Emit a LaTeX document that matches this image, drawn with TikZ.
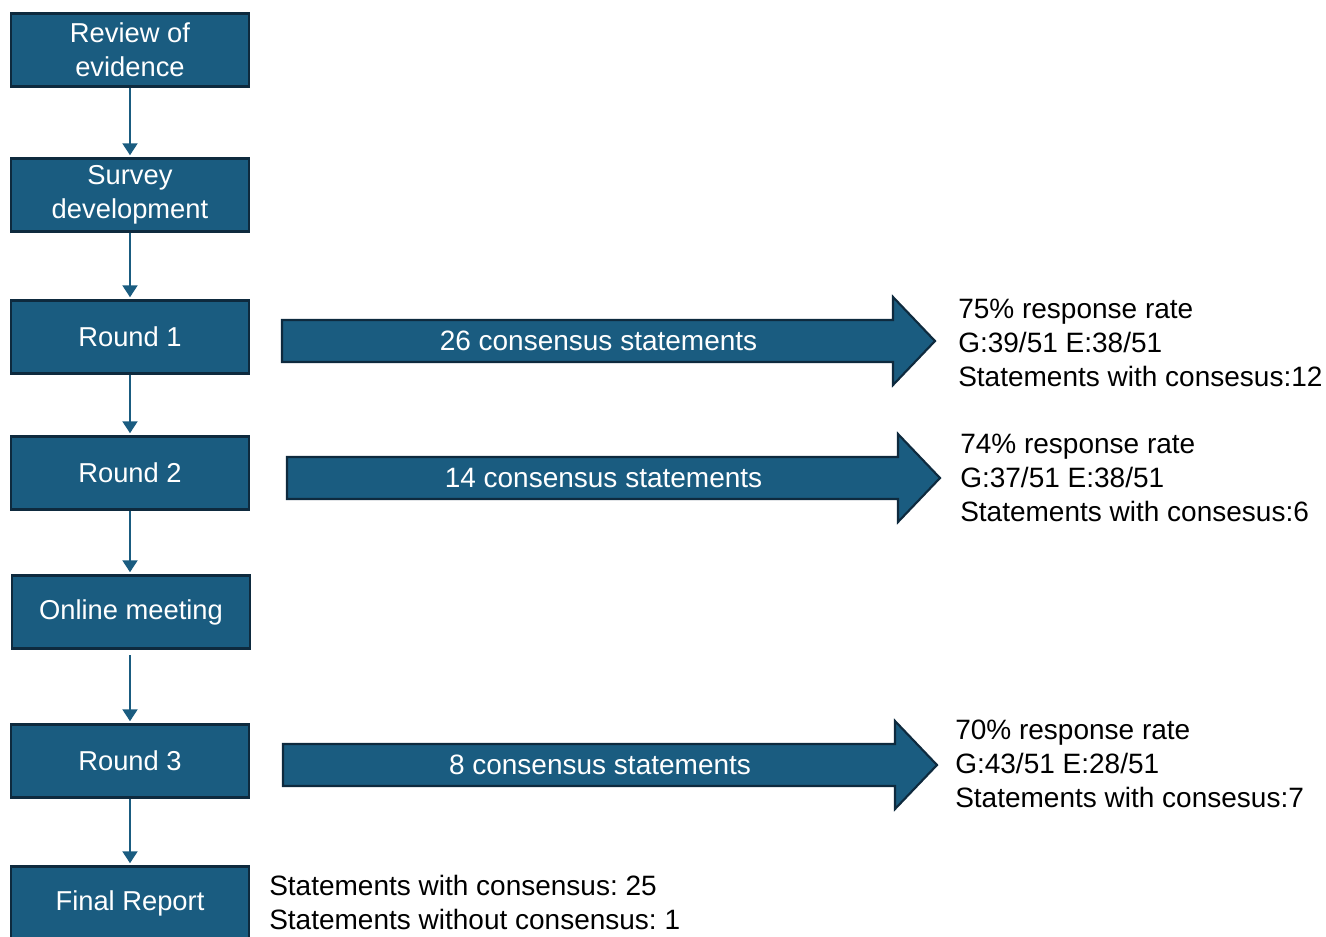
\documentclass[tikz,border=0pt]{standalone}
\usepackage{fontspec}
\setmainfont{Liberation Sans}
\usetikzlibrary{arrows.meta}

\definecolor{stageblue}{RGB}{26,92,128}
\definecolor{stageedge}{RGB}{14,42,62}

\begin{document}
\frenchspacing
\begin{tikzpicture}[x=0.75pt, y=-0.75pt,
    stage/.style={draw=stageedge, fill=stageblue, line width=1.8pt, text=white,
      minimum width=178.5pt, minimum height=54.75pt, inner sep=0pt, align=center,
      font=\fontsize{20.5}{25.5}\selectfont},
    flow/.style={draw=stageblue, line width=2.2pt, shorten >=1.5pt,
      -{Triangle[width=11pt,length=9pt]}},
    fat/.style={draw=stageedge, fill=stageblue, line width=1.6pt},
    info/.style={anchor=west, align=left, inner sep=0pt,
      font=\fontsize{21}{25.5}\selectfont}]
    \useasboundingbox (0,0) rectangle (1326,936);
    % stages down the left
    \node[stage] (review) at (130,50) {Review of\\evidence};
    \node[stage] (survey) at (130,195) {Survey\\development};
    \node[stage] (round1) at (130,337) {Round 1};
    \node[stage] (round2) at (130,473) {Round 2};
    \node[stage] (meeting) at (131,612) {Online meeting};
    \node[stage] (round3) at (130,761) {Round 3};
    \node[stage] (report) at (130,903) {Final Report};
    \draw[flow] (review) -- (survey);
    \draw[flow] (survey) -- (round1);
    \draw[flow] (round1) -- (round2);
    \draw[flow] (round2.south) -- (round2.south |- meeting.north);
    \draw[flow, shorten <=4pt] (round3.north |- meeting.south) -- (round3.north);
    \draw[flow] (round3) -- (report);
    % big arrows
    \foreach \a/\b/\y/\n/\t in {282/893/341/1/26 consensus statements,
                                287/898/478/2/14 consensus statements,
                                283/895/765/3/8 consensus statements} {
      \draw[fat] (\a,{\y-21}) -- (\b,{\y-21}) -- (\b,{\y-44}) -- ({\b+42},\y)
        -- (\b,{\y+44}) -- (\b,{\y+21}) -- (\a,{\y+21}) -- cycle;
      \node[text=white, inner sep=0pt, font=\fontsize{21}{25.5}\selectfont]
        (cs\n) at ({(\a+\b)/2+11},\y) {\t};
    }
    % results
    \node[info] (res1) at (958,343) {75\% response rate\\G:39/51 E:38/51\\Statements with consesus:12};
    \node[info] (res2) at (960,478) {74\% response rate\\G:37/51 E:38/51\\Statements with consesus:6};
    \node[info] (res3) at (955,764) {70\% response rate\\G:43/51 E:28/51\\Statements with consesus:7};
    \node[info] (total) at (269,902) {Statements with consensus: 25\\Statements without consensus: 1};
\end{tikzpicture}
\end{document}
